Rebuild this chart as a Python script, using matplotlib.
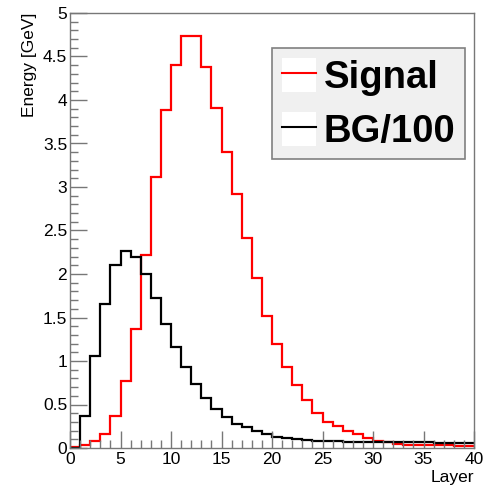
import matplotlib
matplotlib.use('Agg')
import matplotlib.pyplot as plt
import numpy as np
from matplotlib.patches import Patch
from matplotlib.lines import Line2D
from matplotlib.ticker import MultipleLocator

plt.rcParams['font.family'] = ['Liberation Sans', 'DejaVu Sans']

# layer bin edges 0..40
edges = np.arange(0, 41)

# energy per layer [GeV]
signal = [0.01, 0.03, 0.08, 0.16, 0.37, 0.77, 1.37, 2.22, 3.12, 3.89,
          4.40, 4.74, 4.73, 4.38, 3.91, 3.40, 2.92, 2.41, 1.95, 1.52,
          1.19, 0.93, 0.72, 0.55, 0.40, 0.30, 0.25, 0.20, 0.165, 0.11,
          0.085, 0.065, 0.045, 0.04, 0.04, 0.035, 0.03, 0.03, 0.025, 0.02]
bg100 = [0.0, 0.37, 1.06, 1.66, 2.10, 2.26, 2.20, 2.00, 1.72, 1.43,
         1.16, 0.93, 0.73, 0.57, 0.45, 0.36, 0.28, 0.24, 0.19, 0.157,
         0.13, 0.115, 0.105, 0.092, 0.085, 0.08, 0.075, 0.07, 0.068, 0.066,
         0.065, 0.065, 0.065, 0.065, 0.064, 0.064, 0.063, 0.063, 0.063, 0.063]

fig = plt.figure(figsize=(4.98, 4.90), dpi=100)
ax = fig.add_axes([70/498, 1 - 448/490, 404/498, 435/490])

ax.stairs(signal, edges, color='#ff0000', linewidth=1.6, baseline=None)
ax.stairs(bg100, edges, color='black', linewidth=1.6, baseline=None)

ax.set_xlim(0, 40)
ax.set_ylim(0, 5)
ax.xaxis.set_major_locator(MultipleLocator(5))
ax.xaxis.set_minor_locator(MultipleLocator(1))
ax.yaxis.set_minor_locator(MultipleLocator(0.1))
ax.set_yticks(np.arange(0, 5.01, 0.5))
ax.set_yticklabels(['0', '0.5', '1', '1.5', '2', '2.5', '3', '3.5', '4', '4.5', '5'])

ax.tick_params(which='both', direction='in', colors='#777777', labelcolor='black',
               labelsize=12.5, top=False, right=False)
ax.tick_params(which='major', length=12, width=1)
ax.tick_params(which='minor', length=6, width=1)
ax.tick_params(axis='y', pad=2)
ax.tick_params(axis='x', pad=3)
for s in ax.spines.values():
    s.set_color('#777777')
    s.set_linewidth(1)

ax.set_xlabel('Layer', fontsize=12.5, loc='right', labelpad=2)
ax.set_ylabel('Energy [GeV]', fontsize=12.5, loc='top', labelpad=4)

handles = [(Patch(facecolor='white', edgecolor='none'), Line2D([], [], color='#ff0000', linewidth=1.5)),
           (Patch(facecolor='white', edgecolor='none'), Line2D([], [], color='black', linewidth=1.5))]
leg = fig.legend(handles, ['Signal', 'BG/100'], loc='upper left',
                 bbox_to_anchor=(272/498, 1 - 48/490),
                 prop={'weight': 'bold', 'size': 27.5},
                 frameon=True, fancybox=False, shadow=False,
                 borderpad=0.25, handletextpad=0.2, handlelength=0.9,
                 handleheight=1.0, labelspacing=0.42, borderaxespad=0)
leg.get_frame().set_facecolor('#f0f0f0')
leg.get_frame().set_edgecolor('#808080')
leg.get_frame().set_linewidth(1.2)
leg.get_frame().set_alpha(1)

plt.savefig('out.png', dpi=100)
